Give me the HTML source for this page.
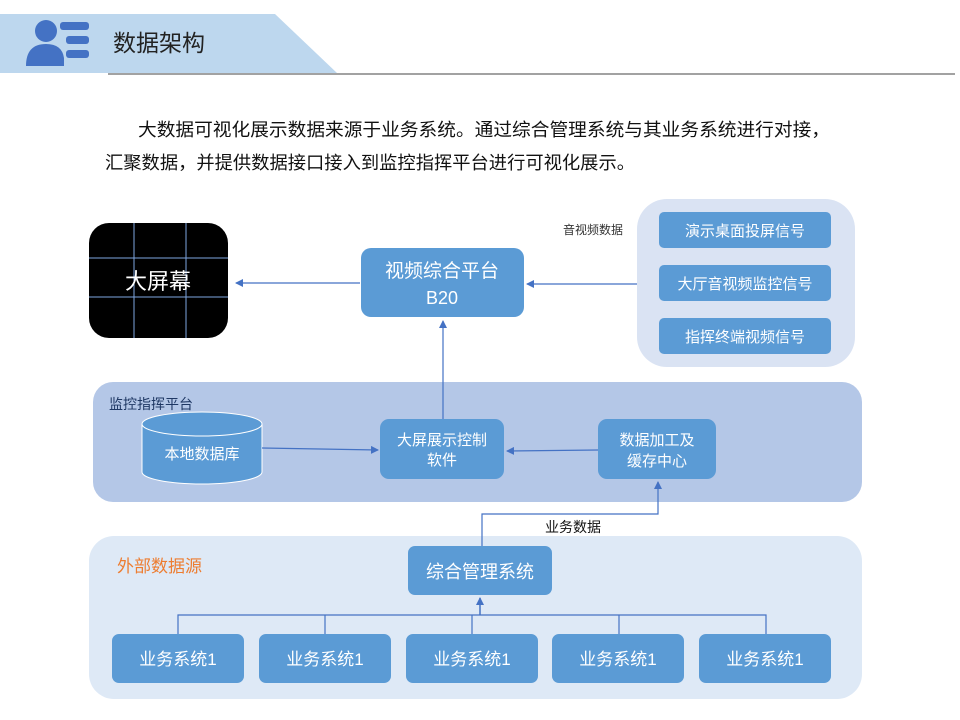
<!DOCTYPE html>
<html><head><meta charset="utf-8">
<style>
html,body{margin:0;padding:0;background:#fff;width:960px;height:720px;overflow:hidden}
svg text{font-family:"Liberation Sans","Microsoft YaHei","Noto Sans CJK SC",sans-serif}
</style></head>
<body>
<svg width="960" height="720" viewBox="0 0 960 720" xmlns="http://www.w3.org/2000/svg">
<defs>
<marker id="ah" markerWidth="8" markerHeight="8" refX="7" refY="4" orient="auto" markerUnits="userSpaceOnUse">
<path d="M0,0 L8,4 L0,8 z" fill="#4472c4"/>
</marker>
</defs>
<polygon points="0,14 275,14 337,73 0,73" fill="#bdd7ee"/>
<line x1="108" y1="74" x2="955" y2="74" stroke="#444" stroke-width="1"/>
<circle cx="46" cy="31" r="11" fill="#4472c4"/>
<path d="M26,66 Q26,44 46,44 Q62,44 64,58 L64,66 z" fill="#4472c4"/>
<rect x="60" y="22" width="29" height="8" rx="3" fill="#4472c4"/>
<rect x="66" y="36" width="23" height="8" rx="3" fill="#4472c4"/>
<rect x="66" y="50" width="23" height="8" rx="3" fill="#4472c4"/>
<text x="113" y="51" font-size="23" fill="#222">数据架构</text>
<text x="138" y="136" font-size="18" fill="#111" textLength="692" lengthAdjust="spacingAndGlyphs">大数据可视化展示数据来源于业务系统。通过综合管理系统与其业务系统进行对接，</text>
<text x="105" y="169" font-size="18" fill="#111" textLength="530" lengthAdjust="spacingAndGlyphs">汇聚数据，并提供数据接口接入到监控指挥平台进行可视化展示。</text>

<rect x="89" y="223" width="139" height="115" rx="20" fill="#000"/>
<line x1="134" y1="223" x2="134" y2="338" stroke="#7ea6e0" stroke-width="1"/>
<line x1="186" y1="223" x2="186" y2="338" stroke="#7ea6e0" stroke-width="1"/>
<line x1="89" y1="258" x2="228" y2="258" stroke="#7ea6e0" stroke-width="1"/>
<line x1="89" y1="297" x2="228" y2="297" stroke="#7ea6e0" stroke-width="1"/>
<text x="158" y="289" font-size="22" fill="#fff" text-anchor="middle">大屏幕</text>

<line x1="360" y1="283" x2="236" y2="283" stroke="#4472c4" stroke-width="1.2" marker-end="url(#ah)"/>
<rect x="361" y="248" width="163" height="69" rx="10" fill="#5b9bd5"/>
<text x="442" y="277" font-size="19" fill="#fff" text-anchor="middle">视频综合平台</text>
<text x="442" y="304" font-size="18" fill="#fff" text-anchor="middle">B20</text>
<line x1="637" y1="284" x2="527" y2="284" stroke="#4472c4" stroke-width="1.2" marker-end="url(#ah)"/>
<text x="563" y="234" font-size="12" fill="#333">音视频数据</text>

<rect x="637" y="199" width="218" height="168" rx="30" fill="#dae3f3"/>
<rect x="659" y="212" width="172" height="36" rx="5" fill="#5b9bd5"/>
<text x="745" y="236" font-size="15" fill="#fff" text-anchor="middle">演示桌面投屏信号</text>
<rect x="659" y="265" width="172" height="36" rx="5" fill="#5b9bd5"/>
<text x="745" y="289" font-size="15" fill="#fff" text-anchor="middle">大厅音视频监控信号</text>
<rect x="659" y="318" width="172" height="36" rx="5" fill="#5b9bd5"/>
<text x="745" y="342" font-size="15" fill="#fff" text-anchor="middle">指挥终端视频信号</text>

<rect x="93" y="382" width="769" height="120" rx="20" fill="#b4c7e7"/>
<text x="109" y="409" font-size="14" fill="#1f3864">监控指挥平台</text>
<path d="M142,424 L142,472 A60,12 0 0 0 262,472 L262,424" fill="#5b9bd5" stroke="#fff" stroke-width="1"/>
<ellipse cx="202" cy="424" rx="60" ry="12" fill="#5b9bd5" stroke="#fff" stroke-width="1"/>
<text x="202" y="459" font-size="15" fill="#fff" text-anchor="middle">本地数据库</text>
<rect x="380" y="419" width="124" height="60" rx="9" fill="#5b9bd5"/>
<text x="442" y="445" font-size="15" fill="#fff" text-anchor="middle">大屏展示控制</text>
<text x="442" y="465" font-size="15" fill="#fff" text-anchor="middle">软件</text>
<rect x="598" y="419" width="118" height="60" rx="9" fill="#5b9bd5"/>
<text x="657" y="445" font-size="15" fill="#fff" text-anchor="middle">数据加工及</text>
<text x="657" y="466" font-size="15" fill="#fff" text-anchor="middle">缓存中心</text>

<line x1="443" y1="419" x2="443" y2="321" stroke="#4472c4" stroke-width="1.2" marker-end="url(#ah)"/>
<line x1="262" y1="448" x2="378" y2="450" stroke="#4472c4" stroke-width="1.2" marker-end="url(#ah)"/>
<line x1="598" y1="450" x2="507" y2="451" stroke="#4472c4" stroke-width="1.2" marker-end="url(#ah)"/>

<rect x="89" y="536" width="773" height="163" rx="25" fill="#dee9f6"/>
<polyline points="482,546 482,514 658,514 658,482" fill="none" stroke="#4472c4" stroke-width="1.2" marker-end="url(#ah)"/>
<text x="545" y="532" font-size="14" fill="#111">业务数据</text>
<text x="117" y="572" font-size="17" fill="#ed7d31">外部数据源</text>
<rect x="408" y="546" width="144" height="49" rx="7" fill="#5b9bd5"/>
<text x="480" y="578" font-size="18" fill="#fff" text-anchor="middle">综合管理系统</text>

<polyline points="178,634 178,615 766,615 766,634" fill="none" stroke="#4472c4" stroke-width="1.2"/>
<line x1="325" y1="615" x2="325" y2="634" stroke="#4472c4" stroke-width="1.2"/>
<line x1="472" y1="615" x2="472" y2="634" stroke="#4472c4" stroke-width="1.2"/>
<line x1="619" y1="615" x2="619" y2="634" stroke="#4472c4" stroke-width="1.2"/>
<line x1="480" y1="615" x2="480" y2="598" stroke="#4472c4" stroke-width="1.5" marker-end="url(#ah)"/>

<rect x="112" y="634" width="132" height="49" rx="7" fill="#5b9bd5"/>
<text x="178" y="665" font-size="17" fill="#fff" text-anchor="middle">业务系统1</text>
<rect x="259" y="634" width="132" height="49" rx="7" fill="#5b9bd5"/>
<text x="325" y="665" font-size="17" fill="#fff" text-anchor="middle">业务系统1</text>
<rect x="406" y="634" width="132" height="49" rx="7" fill="#5b9bd5"/>
<text x="472" y="665" font-size="17" fill="#fff" text-anchor="middle">业务系统1</text>
<rect x="552" y="634" width="132" height="49" rx="7" fill="#5b9bd5"/>
<text x="618" y="665" font-size="17" fill="#fff" text-anchor="middle">业务系统1</text>
<rect x="699" y="634" width="132" height="49" rx="7" fill="#5b9bd5"/>
<text x="765" y="665" font-size="17" fill="#fff" text-anchor="middle">业务系统1</text>
</svg>
</body></html>
